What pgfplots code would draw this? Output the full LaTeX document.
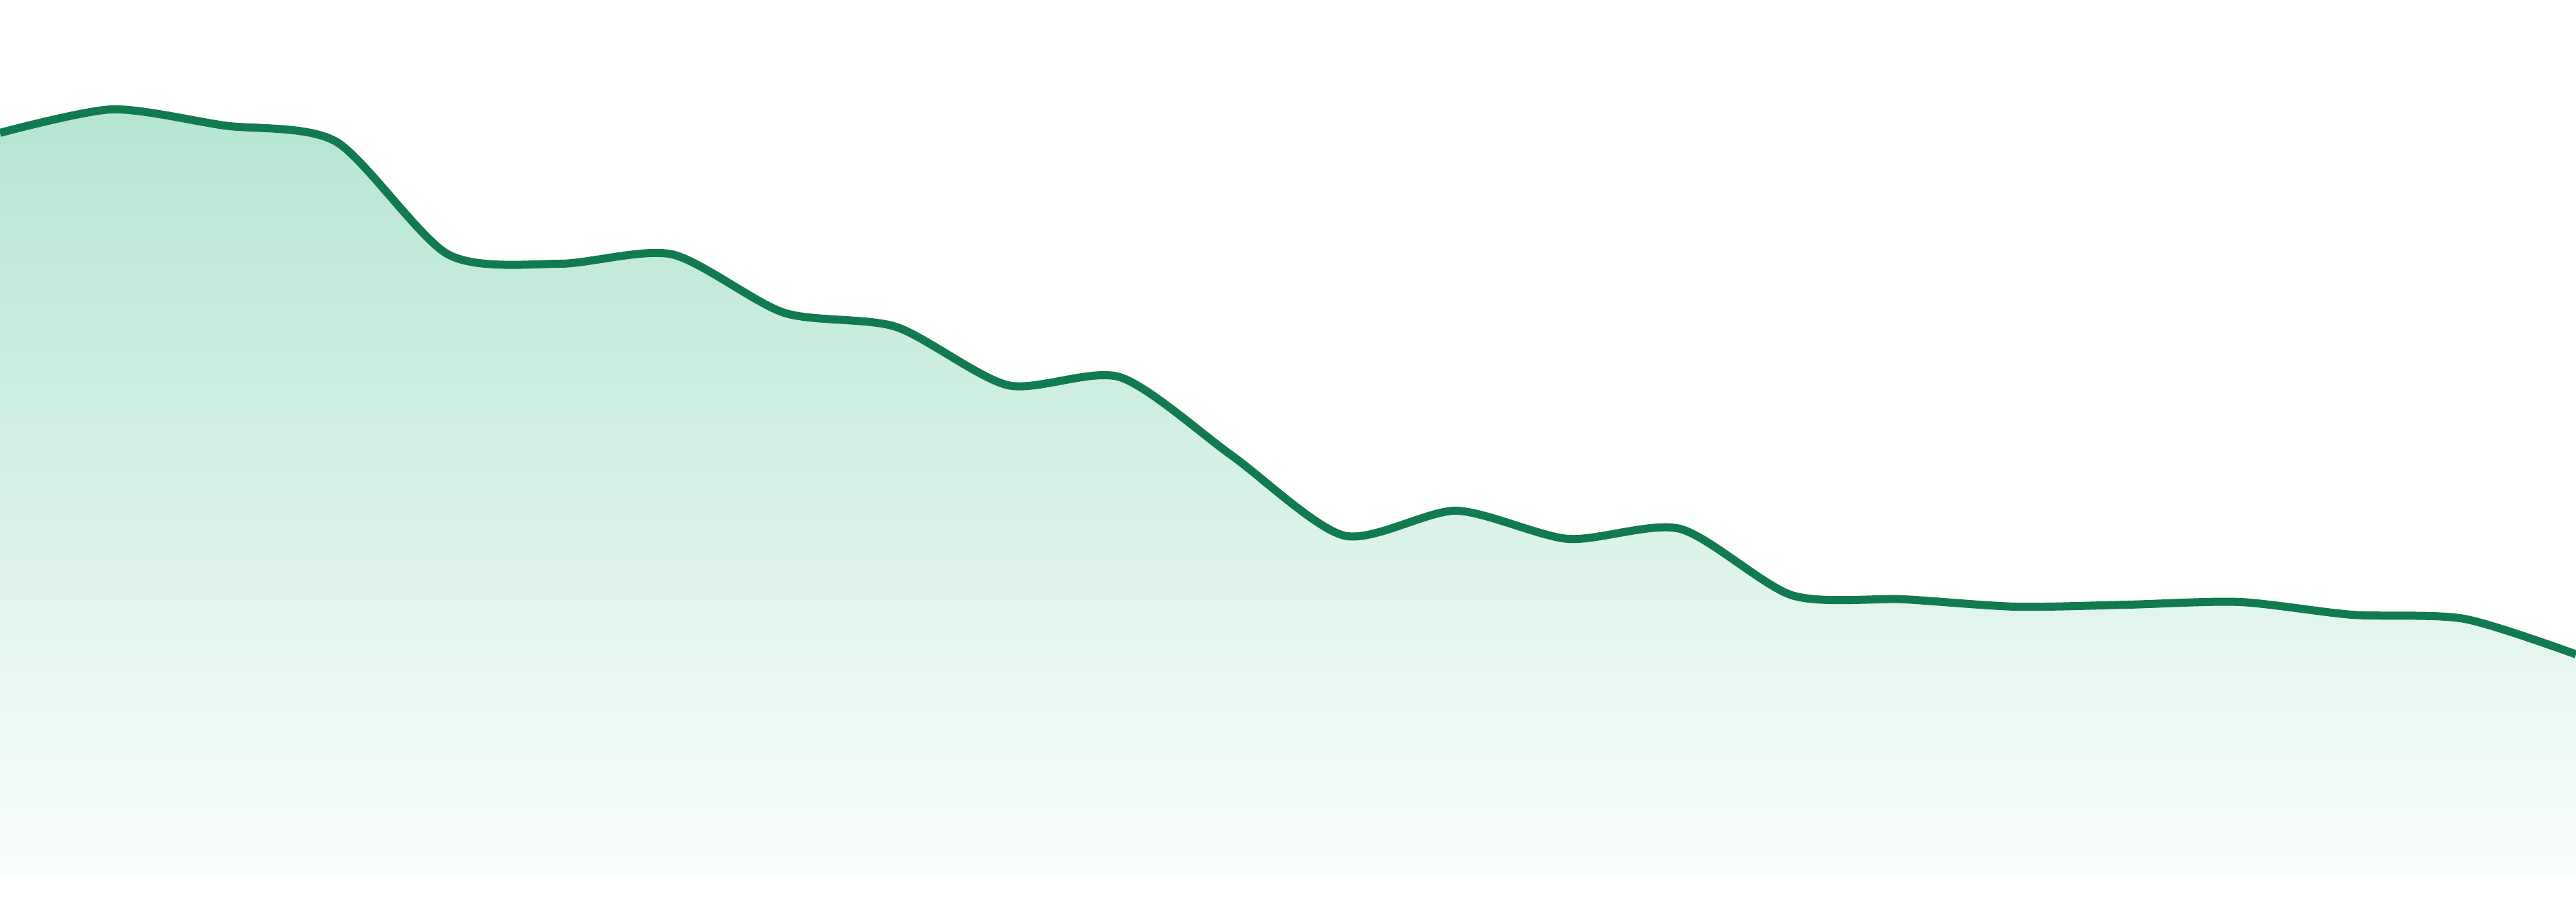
\documentclass[border=0pt]{standalone}
\usepackage{pgfplots}
\pgfplotsset{compat=1.18}
\definecolor{lineGreen}{RGB}{18,122,81}
\definecolor{fillTop}{RGB}{181,229,211}
\definecolor{fillBot}{RGB}{249,253,251}
\pgfplotstableread{
x y
0 1107
1 1142
2 1118
3 1094
4 926
5 912
6 926
7 839
8 818
9 731
10 743
11 626
12 507
13 544
14 502
15 517
16 418
17 412
18 401
19 404
20 408
21 389
22 383
23 330
}\datatable
\begin{document}
\begin{tikzpicture}
\begin{axis}[name=ax,
  scale only axis, width=960bp, height=336bp,
  xmin=0, xmax=23, ymin=-39, ymax=1305,
  hide axis, clip=true]
\addplot[draw=none, top color=fillTop, bottom color=fillBot, smooth, tension=0.45] table[x=x,y=y]{\datatable} \closedcycle;
\addplot[lineGreen, line width=3bp, smooth, tension=0.45, line join=round] table[x=x,y=y]{\datatable};
\end{axis}
\pgfresetboundingbox
\path[use as bounding box] (ax.south west) rectangle (ax.north east);
\end{tikzpicture}
\end{document}
